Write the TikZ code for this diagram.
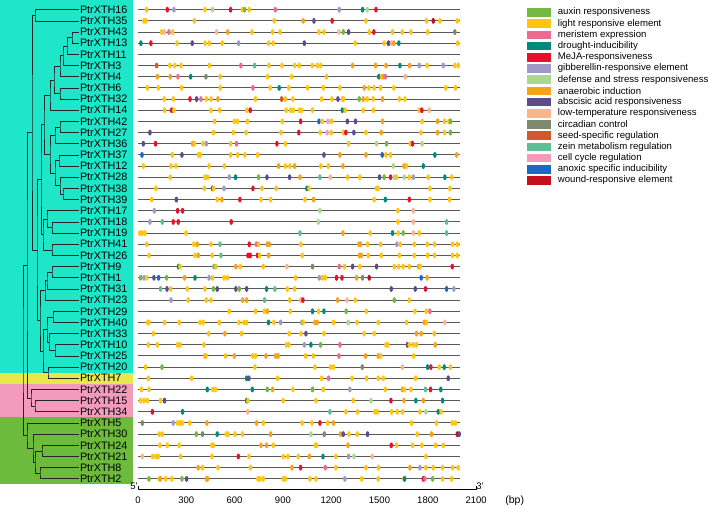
\documentclass[tikz,border=0pt]{standalone}
\usepackage{fontspec}
\setmainfont{Liberation Sans}
\usetikzlibrary{calc,positioning}

% element colours
\definecolor{elG}{HTML}{72B843}
\definecolor{ely}{HTML}{FFC50F}
\definecolor{elp}{HTML}{F0698F}
\definecolor{elt}{HTML}{008A7B}
\definecolor{elr}{HTML}{E8112D}
\definecolor{elg}{HTML}{9D9BC6}
\definecolor{ell}{HTML}{ABD88E}
\definecolor{elo}{HTML}{F7A21B}
\definecolor{ela}{HTML}{5E4B8B}
\definecolor{elT}{HTML}{FAB48F}
\definecolor{elC}{HTML}{7E8A70}
\definecolor{els}{HTML}{D2592E}
\definecolor{elz}{HTML}{5BC094}
\definecolor{elc}{HTML}{F59AB9}
\definecolor{elb}{HTML}{1B69C2}
\definecolor{elw}{HTML}{C40F1E}
% clade bands
\definecolor{bandcyan}{HTML}{1EE6C8}
\definecolor{bandyellow}{HTML}{E6E84C}
\definecolor{bandpink}{HTML}{F29BBB}
\definecolor{bandgreen}{HTML}{6CBB3C}

\tikzset{
  branch/.style={draw=black!85, line width=0.7pt},
  leaf/.style={anchor=west, inner sep=0.8pt, font=\fontsize{10.8}{12}\selectfont},
  rowline/.style={draw=black!65, line width=1pt},
  legbox/.style={minimum width=24pt, minimum height=8.5pt, inner sep=0pt},
  legtext/.style={inner sep=0pt, font=\fontsize{9.6}{11}\selectfont},
  axislabel/.style={inner sep=0pt, font=\fontsize{9.5}{11}\selectfont}
}

% clade: name, x of the joint, two children
\newcommand{\clade}[4]{%
  \path let \p1=(#3), \p2=(#4) in coordinate (#1) at (#2pt,{0.5*\y1+0.5*\y2});
  \draw[branch] (#3) -| (#1) |- (#4);}

\begin{document}
\begin{tikzpicture}[x=1pt, y=-1pt, line join=round]
\useasboundingbox (0,0) rectangle (709,505);

% clade bands
\fill[bandcyan]   (0,0) rectangle (133,372.7);
\fill[bandyellow] (0,372.7) rectangle (133,383.9);
\fill[bandpink]   (0,383.9) rectangle (133,417.4);
\fill[bandgreen]  (0,417.4) rectangle (133,484.3);

% gene names
\foreach \n [count=\i from 0] in {16,35,43,13,11,3,4,6,32,14,42,27,36,37,12,28,38,39,17,18,19,41,26,9,1,31,23,29,40,33,10,25,20,7,22,15,34,5,30,24,21,8,2}
  \node[leaf] (t\n) at (79,{9.7+11.17*\i}) {PtrXTH\n};

% tree
\clade{c1}{35}{t16.west}{t35.west}
\clade{c2}{72}{t43.west}{t13.west}
\clade{c3}{67}{c2}{t11.west}
\clade{c4}{63}{c3}{t3.west}
\clade{c5}{60}{c4}{t4.west}
\clade{c6}{60}{t6.west}{t32.west}
\clade{c7}{54}{c5}{c6}
\clade{c8}{50}{c7}{t14.west}
\clade{c9}{60}{t42.west}{t27.west}
\clade{c10}{55}{c9}{t36.west}
\clade{c11}{59}{t37.west}{t12.west}
\clade{c12}{63}{t38.west}{t39.west}
\clade{c13}{60}{t28.west}{c12}
\clade{c14}{55}{c11}{c13}
\clade{c15}{50}{c10}{c14}
\clade{c16}{44}{c8}{c15}
\clade{c17}{52}{t18.west}{t19.west}
\clade{c18}{47}{t17.west}{c17}
\clade{c19}{52}{t41.west}{t26.west}
\clade{c20}{43}{c18}{c19}
\clade{c21}{41}{c16}{c20}
\clade{c22}{52}{t9.west}{t1.west}
\clade{c23}{47}{c22}{t31.west}
\clade{c24}{45}{c23}{t23.west}
\clade{c25}{53}{t29.west}{t40.west}
\clade{c26}{55}{t10.west}{t25.west}
\clade{c27}{49}{t33.west}{c26}
\clade{c28}{47}{c25}{c27}
\clade{c29}{48}{t20.west}{t7.west}
\clade{c30}{43}{c28}{c29}
\clade{c31}{40}{c24}{c30}
\clade{c32}{37}{c21}{c31}
\clade{c33}{32}{c1}{c32}
\clade{c34}{35}{t15.west}{t34.west}
\clade{c35}{31}{t22.west}{c34}
\clade{c36}{27}{c33}{c35}
\clade{c37}{42}{t24.west}{t21.west}
\clade{c38}{40}{t8.west}{t2.west}
\clade{c39}{35}{c37}{c38}
\clade{c40}{33}{t30.west}{c39}
\clade{c41}{27}{t5.west}{c40}
\clade{c42}{23}{c36}{c41}

% promoter lines and elements, positions in bp
\begin{scope}[shift={(138,0)}, x=0.161pt]
\foreach \i in {0,...,42}
  \draw[rowline] (0,{9.7+11.17*\i}) -- (2000,{9.7+11.17*\i});
\foreach \rw/\elems in {
 0/{53/y,182/r,223/g,416/y,463/l,575/r,648/y,662/G,691/y,853/p,1250/g,1395/t,1424/l,1478/r},
 1/{37/y,49/y,350/y,846/y,1026/o,1093/a,1206/r,1416/y,1792/y,1834/w,1875/y,1983/y},
 2/{147/y,163/T,192/p,215/y,488/T,557/o,708/y,836/y,882/y,1124/y,1155/y,1248/T,1275/G,1308/a,1436/y,1465/r,1581/y,1641/y,1695/y,1799/y,1968/C},
 3/{18/t,80/r,242/y,337/a,416/y,443/y,523/y,625/g,811/y,840/y,1033/a,1349/y,1529/y,1556/a,1575/T,1589/o,1620/t,1985/y},
 5/{116/s,198/y,229/y,267/y,443/y,639/p,724/z,813/y,894/y,973/y,1002/y,1082/y,1113/y,1134/y,1333/o,1476/o,1540/o,1627/t,1687/o,1747/g,1796/y,1896/g,1968/y,1989/y},
 6/{120/o,200/o,248/p,327/t,422/C,511/y,805/y,954/y,1171/y,1496/t,1513/y,1523/o,1536/p,1660/T},
 7/{58/y,126/y,271/y,511/y,714/p,821/y,877/t,937/y,1053/y,1151/y,1254/y,1405/o,1434/y,1467/y,1507/y,1589/y,1912/y,1972/y},
 8/{163/y,219/y,323/r,364/a,391/p,424/y,453/y,496/o,730/y,892/s,915/y,962/y,1140/y,1204/y,1242/a,1269/T,1277/y,1374/G,1399/o,1424/y,1461/y,1519/o,1623/y,1658/y},
 9/{165/y,209/r,223/y,453/y,507/y,675/y,697/r,921/y,948/y,964/y,1002/y,1016/y,1084/y,1269/t,1287/y,1399/y,1463/y,1747/y,1763/r,1809/T},
 10/{476/y,598/y,617/y,679/y,896/y,1010/r,1124/b,1144/y,1180/c,1202/y,1300/a,1351/a,1519/o,1765/y,1861/o,1904/y,1931/y,1941/G},
 11/{74/a,468/y,592/y,672/y,888/y,999/r,1132/y,1175/c,1200/y,1275/y,1291/r,1341/a,1416/y,1511/o,1757/y,1861/o,1904/y,1941/G},
 12/{33/a,109/r,339/o,350/y,403/y,424/g,575/y,612/p,863/r,915/y,1308/y,1482/l,1544/G,1691/y,1705/r,1765/l},
 13/{25/b,213/y,273/a,376/y,387/y,575/y,619/y,664/y,743/y,1155/a,1254/o,1416/o,1517/b,1540/y,1569/y,1844/t,1979/o},
 14/{33/y,205/y,236/y,441/y,536/y,873/o,915/y,944/y,973/o,1136/y,1182/y,1273/o,1586/l,1652/o,1668/y,1772/t},
 15/{200/y,416/y,432/y,567/g,606/t,749/G,801/a,942/a,1006/o,1130/z,1194/T,1302/y,1378/y,1500/a,1529/G,1569/r,1592/l,1606/y,1654/l,1685/y,1710/g,1803/y,1906/t,1948/y},
 16/{111/y,412/y,463/a,470/y,534/g,714/r,770/y,859/y,1049/t,1062/y,1482/y,1492/y,1813/y,1937/y},
 17/{85/y,238/a,492/y,521/o,633/r,764/y,824/y,1037/y,1091/o,1467/y,1536/t,1685/r,1813/y,1935/y},
 18/{101/g,246/r,277/r,1130/l,1614/y,1710/T},
 19/{74/g,151/z,219/r,250/r,579/r,1120/l,1614/y,1710/T,1917/z},
 20/{12/y,27/y,43/y,298/y,1006/z,1273/o,1442/y,1581/t,1616/y,1647/G,1710/T,1747/y,1917/z},
 21/{54/y,347/y,368/o,453/y,509/z,691/r,735/p,749/y,803/o,815/o,1012/y,1372/o,1382/o,1426/y,1507/y,1608/g,1629/y,1716/y,1796/y,1842/y,1954/y,1983/y},
 22/{68/y,354/y,374/o,461/y,515/z,683/r,697/r,743/r,755/y,811/o,1020/y,1376/o,1387/o,1430/y,1511/y,1623/y,1716/y,1799/y,1842/y,1954/y,1983/y},
 23/{252/t,261/y,472/z,484/y,608/o,635/y,778/y,925/T,1084/C,1250/p,1283/y,1333/a,1378/y,1482/a,1592/y,1620/y,1647/y,1685/y,1743/o,1753/y,1952/r},
 24/{16/G,37/g,54/y,99/a,128/b,178/G,289/o,354/t,441/g,463/y,534/y,555/y,979/y,1126/g,1146/y,1163/y,1233/r,1267/r,1358/o,1395/C,1436/w,1759/b,1796/o},
 25/{140/z,180/a,203/y,306/y,416/y,468/G,492/a,608/a,629/G,675/a,799/t,850/z,927/y,973/y,1573/a,1722/a,1786/r,1917/b,1962/g},
 26/{205/g,312/y,424/y,453/y,650/o,675/o,786/z,942/y,1010/T,1024/r,1240/o,1298/T,1349/y,1592/G,1685/y},
 27/{567/y,730/y,784/y,803/o,946/y,1084/t,1122/y,1155/t,1293/G,1418/y,1720/y,1790/y,1813/p},
 28/{60/y,68/y,165/y,256/y,385/y,405/y,505/y,627/y,658/y,675/y,811/t,844/y,886/g,1018/z,1026/y,1099/o,1113/o,1215/y,1306/l,1360/y,1492/y,1668/y,1778/o,1792/y,1906/T},
 29/{95/y,439/y,540/o,643/y,939/y,1012/y,1043/a,1155/y,1405/y,1467/y,1730/o,1759/o,1840/y},
 30/{64/y,120/y,246/y,261/y,410/y,923/y,937/y,1033/g,1074/t,1134/G,1254/p,1540/y,1552/y,1674/a,1685/y,1710/y,1730/y,1846/o},
 31/{416/o,422/y,544/y,598/o,712/y,730/y,795/o,855/o,871/o,1041/y,1089/y,1248/p,1413/o,1492/o,1507/y,1712/y},
 32/{47/y,149/G,726/y,1099/y,1196/y,1215/y,1393/C,1643/T,1799/t,1819/r,1871/y,1902/t,1941/y},
 33/{64/y,333/y,675/t,689/a,867/y,1140/y,1184/p,1329/y,1420/y,1492/y,1523/y,1724/y,1927/a},
 34/{22/y,68/y,430/t,465/y,482/y,710/t,803/G,836/o,962/y,1084/G,1151/y,1316/g,1536/y,1643/o,1654/y,1695/y,1786/z,1817/r,1881/t},
 35/{16/y,37/y,58/y,140/y,165/a,675/t,683/y,902/y,1105/y,1337/y,1447/l,1571/r,1652/o,1726/t,1772/o,1892/t},
 36/{89/r,277/t,681/T,1192/z,1291/y,1364/y,1471/y,1486/y,1575/y,1610/y,1643/y,1751/y,1788/l,1865/t,1883/y},
 37/{27/C,219/g,246/y,261/y,275/y,321/y,428/o,737/o,778/y,1020/y,1080/y,1130/r,1178/y,1215/o,1699/y,1854/y,1952/y,1972/y},
 38/{132/y,151/y,362/G,401/C,492/t,548/y,559/y,602/y,648/y,824/o,1074/l,1157/C,1258/o,1275/a,1310/y,1362/y,1426/a,1734/y,1823/o,1983/w,1995/a},
 39/{136/y,182/y,256/y,459/y,468/y,764/o,799/o,840/y,1101/y,1109/y,1304/o,1573/r,1606/y,1705/y,1763/y,1848/y,1896/y},
 40/{27/T,91/y,111/y,126/y,265/y,459/y,623/r,689/y,902/y,931/y,995/y,1064/o,1149/t,1229/y,1308/g,1341/l,1455/T,1788/y},
 41/{374/o,401/y,497/y,699/y,956/o,1010/r,1163/p,1229/y,1416/y,1494/y,1689/o,1751/g,1788/y,1834/y,1892/y,1954/y,1989/y},
 42/{68/G,132/y,140/o,172/y,209/y,273/G,302/a,426/o,432/o,745/y,757/y,778/y,902/y,915/y,1068/y,1105/y,1285/g,1389/y,1492/y,1652/y,1656/t,1772/r,1782/p,1830/G,1892/y,1948/y}}
  \foreach \pos/\kind in \elems
    \fill[fill=el\kind] (\pos,{9.7+11.17*\rw}) ellipse [x radius=1.8pt, y radius=3pt];

% axis
\coordinate (ax0) at (0,489.5);
\coordinate (ax1) at (2100,489.5);
\draw[line width=0.6pt] ($(ax0)+(0,-3.5)$) -- (ax0) -- (ax1) -- ($(ax1)+(0,-3.5)$);
\foreach \v in {0,300,...,2100}
  \node[axislabel] (lab\v) at (\v,500.5) {\v};
\node[axislabel, anchor=south east] (five) at ($(ax0)+(-0.5,0)$) {5'};
\node[axislabel, anchor=south west] (three) at ($(ax1)+(0.5,0)$) {3'};
\node[axislabel, font=\fontsize{10.5}{12}\selectfont] (bp) at (2340,500.5) {(bp)};
\end{scope}

% legend
\foreach \k/\txt [count=\i from 0] in {G/auxin responsiveness, y/light responsive element, p/meristem expression, t/drought-inducibility, r/MeJA-responsiveness, g/gibberellin-responsive element, l/defense and stress responsiveness, o/anaerobic induction, a/abscisic acid responsiveness, T/low-temperature responsiveness, C/circadian control, s/seed-specific regulation, z/zein metabolism regulation, c/cell cycle regulation, b/anoxic specific inducibility, w/wound-responsive element}{
  \node[legbox, fill=el\k] (lb\i) at (539,{12.5+11.2*\i}) {};
  \node[legtext, right=6.5pt of lb\i] (lt\i) {\txt};
}
\end{tikzpicture}
\end{document}
